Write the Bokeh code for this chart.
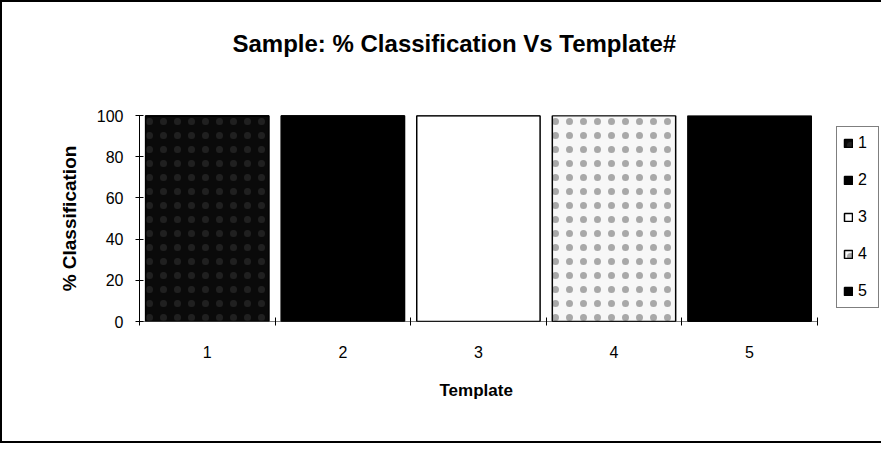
from bokeh.plotting import figure
from bokeh.models import FixedTicker, Legend, LegendItem, Range1d, Title
from bokeh.embed import file_html
from bokeh.resources import INLINE

# ---- data ----
templates = [1, 2, 3, 4, 5]
series_names = ["1", "2", "3", "4", "5"]
s1 = [100, 0, 0, 0, 0]
s2 = [0, 100, 0, 0, 0]
s3 = [0, 0, 100, 0, 0]
s4 = [0, 0, 0, 100, 0]
s5 = [0, 0, 0, 0, 100]
y_ticks = [0, 20, 40, 60, 80, 100]

data = {"x": templates, "1": s1, "2": s2, "3": s3, "4": s4, "5": s5}

FONT = "Liberation Sans"

x_start = templates[0] - 0.5
x_end_axis = templates[-1] + 0.5
# frame extends to the right edge so the legend (outside the category area) is not clipped
p = figure(width=881, height=443, output_backend="svg", toolbar_location=None,
           x_range=Range1d(x_start, x_end_axis + 0.488), y_range=Range1d(0, 100),
           min_border_left=137, min_border_right=0, min_border_top=113,
           min_border_bottom=124)
p.styles = {"border-left": "2px solid black", "border-top": "2px solid black",
            "border-bottom": "2px solid black"}

fills = ["#0a0a0a", "#000000", "#ffffff", "#f7f7f7", "#000000"]

stack = p.vbar_stack(series_names, x="x", width=0.91, source=data,
                     fill_color=fills, line_color="black", line_width=1.5)
stack[3].glyph.hatch_pattern = "dot"
stack[3].glyph.hatch_color = "#a8a8a8"
stack[3].glyph.hatch_scale = 14
stack[3].glyph.hatch_weight = 1
stack[0].glyph.hatch_pattern = "dot"
stack[0].glyph.hatch_color = "#202020"
stack[0].glyph.hatch_scale = 14
stack[0].glyph.hatch_weight = 1

# x axis baseline only across the category area
p.segment(x0=[x_start], y0=[0], x1=[x_end_axis], y1=[0], line_color="black", line_width=1)

# spacer between frame and title (closest to the frame)
p.add_layout(Title(text=" ", text_font_size="1px", standoff=36), "above")

p.title.text = "Sample: % Classification Vs Template#"
p.title.align = "left"
p.title.offset = 93
p.title.standoff = 40
p.title.text_font = FONT
p.title.text_font_size = "24px"
p.title.text_font_style = "bold"
p.title.text_color = "black"

p.xgrid.visible = False
p.ygrid.visible = False
p.outline_line_color = None
p.background_fill_color = "white"
p.border_fill_color = "white"

xa = p.xaxis[0]
xa.ticker = FixedTicker(ticks=templates, minor_ticks=[t - 0.5 for t in templates] + [x_end_axis])
xa.major_tick_in = 0
xa.major_tick_out = 0
xa.minor_tick_in = 4
xa.minor_tick_out = 4
xa.minor_tick_line_color = "black"
xa.axis_line_color = None
xa.major_label_standoff = 20
xa.major_label_text_font = FONT
xa.major_label_text_font_size = "16px"
xa.major_label_text_color = "black"

xlabel = Title(text="Template", align="left", offset=300, standoff=36,
               text_font=FONT, text_font_size="17px", text_font_style="bold",
               text_color="black")
p.add_layout(xlabel, "below")

ya = p.yaxis[0]
ya.ticker = FixedTicker(ticks=y_ticks, minor_ticks=[])
ya.major_tick_in = 4
ya.major_tick_out = 4
ya.major_tick_line_color = "black"
ya.axis_line_color = "black"
ya.major_label_standoff = 12
ya.major_label_text_font = FONT
ya.major_label_text_font_size = "16px"
ya.major_label_text_color = "black"
ya.axis_label = "% Classification"
ya.axis_label_text_font = FONT
ya.axis_label_text_font_size = "19px"
ya.axis_label_text_font_style = "bold"
ya.axis_label_text_color = "black"
ya.axis_label_standoff = 14

legend = Legend(items=[LegendItem(label=n, renderers=[r]) for n, r in zip(series_names, stack)],
                location=(697, 13), padding=6, spacing=17,
                glyph_width=10, glyph_height=10, label_height=20, label_width=14,
                label_standoff=5, label_text_font=FONT, label_text_font_size="16px",
                label_text_color="black", border_line_color="black", border_line_width=1,
                background_fill_color="white", background_fill_alpha=1)
p.add_layout(legend)

open("out.html", "w").write(file_html(p, INLINE))
